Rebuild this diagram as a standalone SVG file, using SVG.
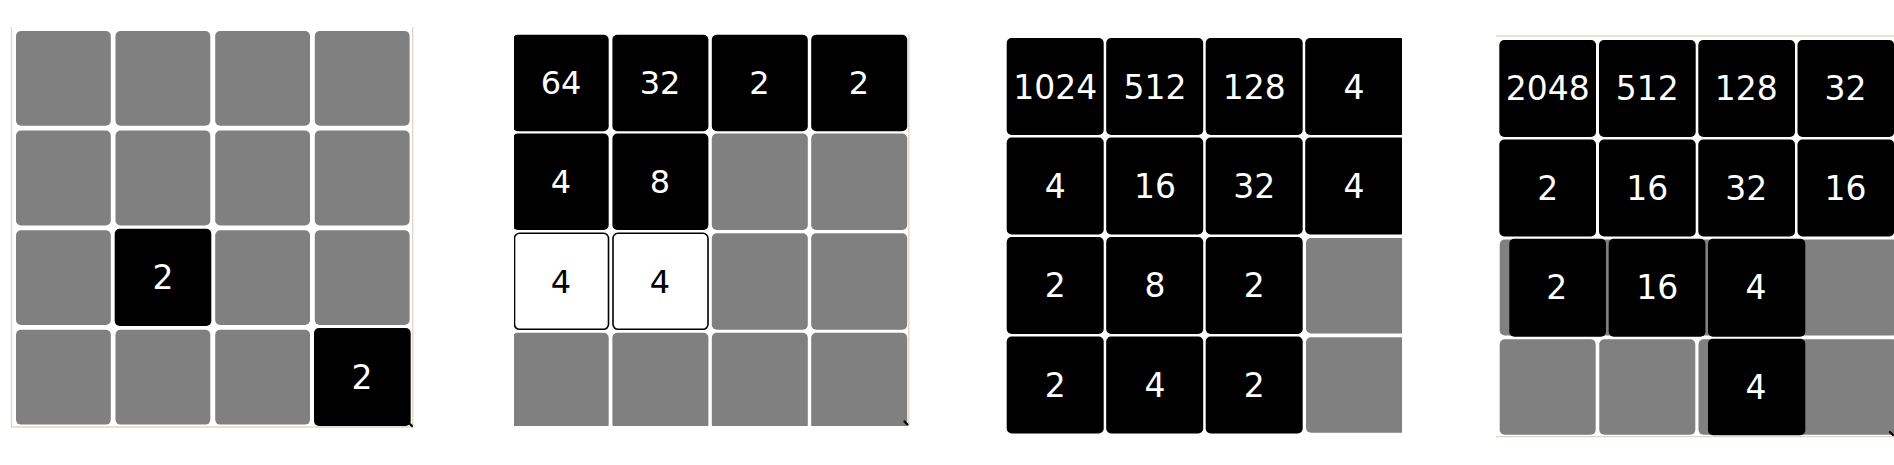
<svg xmlns="http://www.w3.org/2000/svg" width="1894" height="465" viewBox="0 0 1894 465">
<style>
.g{fill:#808080}
.b{fill:#000}
.w{fill:#fff;stroke:#000;stroke-width:1.6}
.t{font-family:"DejaVu Sans",sans-serif;font-size:33px;text-anchor:middle;fill:#fff}
.s{font-size:32px}
.k{fill:#000}
.frame{stroke:#e0d6c6;stroke-width:1.3;fill:none}
.cur{stroke:#000;stroke-width:2.2;stroke-linecap:round}
</style>
<defs>
<clipPath id="c2"><rect x="514" y="0" width="395.5" height="426"/></clipPath>
<clipPath id="c3"><rect x="990" y="0" width="412" height="465"/></clipPath>
</defs>
<rect width="1894" height="465" fill="#fff"/>

<g id="panel1">
<path class="frame" d="M11.5 27V427H412.7V27"/>
<g id="p1-r0"><rect class="g" x="16" y="31" width="94.8" height="94.8" rx="5"/><rect class="g" x="115.5" y="31" width="94.8" height="94.8" rx="5"/><rect class="g" x="215.2" y="31" width="94.8" height="94.8" rx="5"/><rect class="g" x="314.8" y="31" width="94.8" height="94.8" rx="5"/></g>
<g id="p1-r1"><rect class="g" x="16" y="130.6" width="94.8" height="94.8" rx="5"/><rect class="g" x="115.5" y="130.6" width="94.8" height="94.8" rx="5"/><rect class="g" x="215.2" y="130.6" width="94.8" height="94.8" rx="5"/><rect class="g" x="314.8" y="130.6" width="94.8" height="94.8" rx="5"/></g>
<g id="p1-r2"><rect class="g" x="16" y="230.2" width="94.8" height="94.8" rx="5"/><rect class="g" x="215.2" y="230.2" width="94.8" height="94.8" rx="5"/><rect class="g" x="314.8" y="230.2" width="94.8" height="94.8" rx="5"/></g>
<g id="p1-r3"><rect class="g" x="16" y="329.8" width="94.8" height="94.8" rx="5"/><rect class="g" x="115.5" y="329.8" width="94.8" height="94.8" rx="5"/><rect class="g" x="215.2" y="329.8" width="94.8" height="94.8" rx="5"/></g>
<g id="p1-t12"><rect class="b" x="114.7" y="228.7" width="96.6" height="97.3" rx="5"/><text class="t" x="163" y="289">2</text></g>
<g id="p1-t33"><rect class="b" x="314" y="328" width="96.7" height="98" rx="5"/><text class="t" x="362" y="388.7">2</text></g>
<line class="cur" x1="409" y1="423" x2="412" y2="426"/>
</g>

<g id="panel2">
<g clip-path="url(#c2)">
<g id="p2-t00"><rect class="b" x="512.7" y="34.7" width="96" height="96.5" rx="5"/><text class="t s" x="561" y="94">64</text></g>
<g id="p2-t01"><rect class="b" x="612.4" y="34.7" width="96" height="96.5" rx="5"/><text class="t s" x="660" y="94">32</text></g>
<g id="p2-t02"><rect class="b" x="711.8" y="34.7" width="96" height="96.5" rx="5"/><text class="t s" x="759.5" y="94">2</text></g>
<g id="p2-t03"><rect class="b" x="811.2" y="34.7" width="96" height="96.5" rx="5"/><text class="t s" x="859" y="94">2</text></g>
<g id="p2-t10"><rect class="b" x="512.7" y="133.5" width="96" height="96.5" rx="5"/><text class="t s" x="561" y="193.3">4</text></g>
<g id="p2-t11"><rect class="b" x="612.4" y="133.5" width="96" height="96.5" rx="5"/><text class="t s" x="660" y="193.3">8</text></g>
<rect class="g" x="711.8" y="133.5" width="96" height="96.5" rx="5"/>
<rect class="g" x="811.2" y="133.5" width="96" height="96.5" rx="5"/>
<g id="p2-t20"><rect class="w" x="514.5" y="233.3" width="94" height="96" rx="5"/><text class="t s k" x="561" y="292.7">4</text></g>
<g id="p2-t21"><rect class="w" x="613" y="233.3" width="95" height="96" rx="5"/><text class="t s k" x="660" y="292.7">4</text></g>
<rect class="g" x="711.8" y="233.3" width="96" height="96.5" rx="5"/>
<rect class="g" x="811.2" y="233.3" width="96" height="96.5" rx="5"/>
<rect class="g" x="512.7" y="332.7" width="96" height="96.5" rx="5"/>
<rect class="g" x="612.4" y="332.7" width="96" height="96.5" rx="5"/>
<rect class="g" x="711.8" y="332.7" width="96" height="96.5" rx="5"/>
<rect class="g" x="811.2" y="332.7" width="96" height="96.5" rx="5"/>
</g>
<line class="frame" x1="908.8" y1="34" x2="908.8" y2="426"/>
<line class="cur" x1="904.5" y1="421.5" x2="907.5" y2="424.5"/>
</g>

<g id="panel3" clip-path="url(#c3)">
<g id="p3-t00"><rect class="b" x="1006.7" y="38" width="97" height="97" rx="5"/><text class="t" x="1055.3" y="98.7">1024</text></g>
<g id="p3-t01"><rect class="b" x="1106.2" y="38" width="97" height="97" rx="5"/><text class="t" x="1155" y="98.7">512</text></g>
<g id="p3-t02"><rect class="b" x="1205.7" y="38" width="97" height="97" rx="5"/><text class="t" x="1254.3" y="98.7">128</text></g>
<g id="p3-t03"><rect class="b" x="1305.2" y="38" width="100" height="97" rx="5"/><text class="t" x="1354" y="98.7">4</text></g>
<g id="p3-t10"><rect class="b" x="1006.7" y="137.5" width="97" height="97" rx="5"/><text class="t" x="1055.3" y="198">4</text></g>
<g id="p3-t11"><rect class="b" x="1106.2" y="137.5" width="97" height="97" rx="5"/><text class="t" x="1155" y="198">16</text></g>
<g id="p3-t12"><rect class="b" x="1205.7" y="137.5" width="97" height="97" rx="5"/><text class="t" x="1254.3" y="198">32</text></g>
<g id="p3-t13"><rect class="b" x="1305.2" y="137.5" width="100" height="97" rx="5"/><text class="t" x="1354" y="198">4</text></g>
<g id="p3-t20"><rect class="b" x="1006.7" y="237" width="97" height="97" rx="5"/><text class="t" x="1055.3" y="297.3">2</text></g>
<g id="p3-t21"><rect class="b" x="1106.2" y="237" width="97" height="97" rx="5"/><text class="t" x="1155" y="297.3">8</text></g>
<g id="p3-t22"><rect class="b" x="1205.7" y="237" width="97" height="97" rx="5"/><text class="t" x="1254.3" y="297.3">2</text></g>
<rect class="g" x="1306" y="238" width="100" height="95.5" rx="5"/>
<g id="p3-t30"><rect class="b" x="1006.7" y="336.5" width="97" height="97" rx="5"/><text class="t" x="1055.3" y="397">2</text></g>
<g id="p3-t31"><rect class="b" x="1106.2" y="336.5" width="97" height="97" rx="5"/><text class="t" x="1155" y="397">4</text></g>
<g id="p3-t32"><rect class="b" x="1205.7" y="336.5" width="97" height="97" rx="5"/><text class="t" x="1254.3" y="397">2</text></g>
<rect class="g" x="1306" y="337.3" width="100" height="95.5" rx="5"/>
</g>

<g id="panel4">
<line class="frame" x1="1496" y1="36" x2="1894" y2="36"/>
<line class="frame" x1="1496" y1="436.7" x2="1894" y2="436.7"/>
<g id="p4-t00"><rect class="b" x="1499.3" y="40" width="96.7" height="97" rx="5"/><text class="t" x="1547.7" y="100">2048</text></g>
<g id="p4-t01"><rect class="b" x="1599" y="40" width="96.7" height="97" rx="5"/><text class="t" x="1647.3" y="100">512</text></g>
<g id="p4-t02"><rect class="b" x="1698.3" y="40" width="96.7" height="97" rx="5"/><text class="t" x="1746.3" y="100">128</text></g>
<g id="p4-t03"><rect class="b" x="1797.5" y="40" width="96.7" height="97" rx="5"/><text class="t" x="1845.5" y="100">32</text></g>
<g id="p4-t10"><rect class="b" x="1499.3" y="139.5" width="96.7" height="97" rx="5"/><text class="t" x="1547.7" y="200">2</text></g>
<g id="p4-t11"><rect class="b" x="1599" y="139.5" width="96.7" height="97" rx="5"/><text class="t" x="1647.3" y="200">16</text></g>
<g id="p4-t12"><rect class="b" x="1698.3" y="139.5" width="96.7" height="97" rx="5"/><text class="t" x="1746.3" y="200">32</text></g>
<g id="p4-t13"><rect class="b" x="1797.5" y="139.5" width="96.7" height="97" rx="5"/><text class="t" x="1845.5" y="200">16</text></g>
<rect class="g" x="1499.7" y="239.5" width="96" height="96" rx="5"/>
<rect class="g" x="1599.3" y="239.5" width="96" height="96" rx="5"/>
<rect class="g" x="1698.5" y="239.5" width="96" height="96" rx="5"/>
<rect class="g" x="1797.7" y="239.5" width="100" height="96" rx="5"/>
<rect class="g" x="1499.7" y="339.3" width="96" height="95.5" rx="5"/>
<rect class="g" x="1599.3" y="339.3" width="96" height="95.5" rx="5"/>
<rect class="g" x="1698.5" y="339.3" width="96" height="95.5" rx="5"/>
<rect class="g" x="1797.7" y="339.3" width="100" height="95.5" rx="5"/>
<g id="p4-m20"><rect class="b" x="1509.3" y="238.7" width="96.7" height="98" rx="5"/><text class="t" x="1556.7" y="298.7">2</text></g>
<g id="p4-m21"><rect class="b" x="1608.7" y="238.7" width="96.7" height="98" rx="5"/><text class="t" x="1657.3" y="298.7">16</text></g>
<g id="p4-m22"><rect class="b" x="1708" y="238.7" width="97.3" height="98" rx="5"/><text class="t" x="1756" y="298.7">4</text></g>
<g id="p4-m32"><rect class="b" x="1708" y="338.7" width="97.3" height="96.6" rx="5"/><text class="t" x="1756" y="398.7">4</text></g>
<line class="cur" x1="1890" y1="432" x2="1893" y2="435"/>
</g>
</svg>
